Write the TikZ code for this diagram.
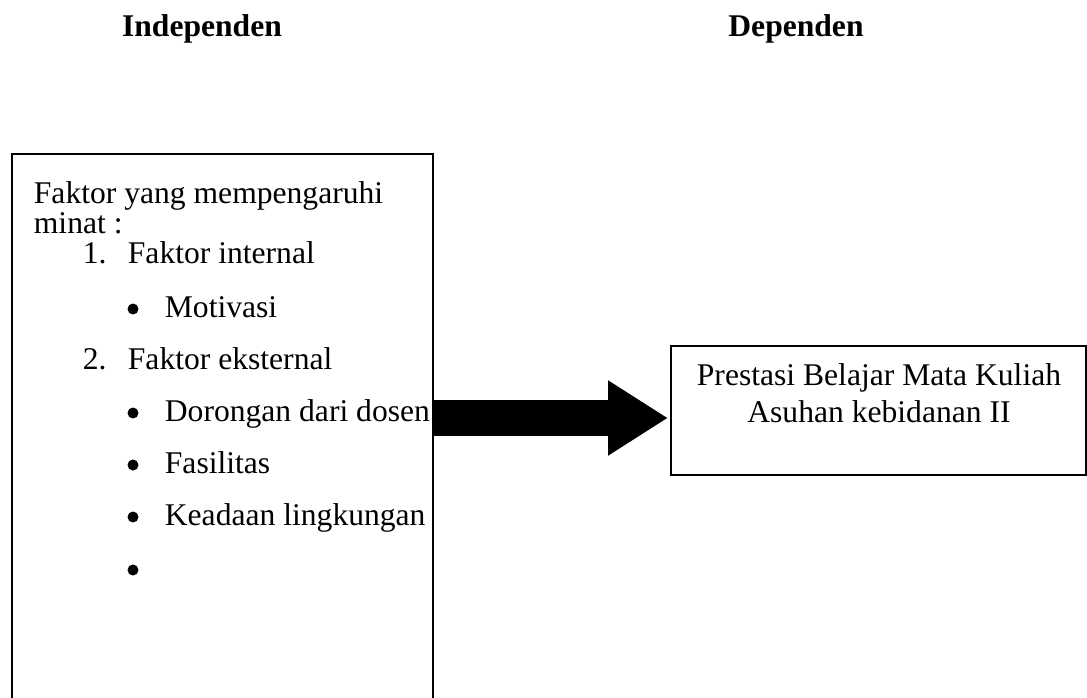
\documentclass[tikz,border=0pt]{standalone}
\usepackage{fontspec}
\setmainfont{Liberation Serif}
\usetikzlibrary{arrows.meta}

\begin{document}
\begin{tikzpicture}[x=0.5pt,y=-0.5pt,line width=0.9pt,
    every node/.style={inner sep=0pt,font=\fontsize{15.8}{15}\selectfont},
    txt/.style={anchor=base west},
    dot/.style={circle,fill,minimum size=5.5pt},
    head/.style={anchor=base,font=\fontsize{15.8}{15}\selectfont\bfseries},
    bigarrow/.style={line width=18pt,-{Triangle[length=30pt,width=35.5pt]}}]
  \clip (0,0) rectangle (1087,697);
  \node (indep) at (202,36) [head] {Independen};
  \node (dep) at (796,36) [head] {Dependen};
  % kotak kiri
  \node (lbox) at (11,153) [draw,anchor=north west,minimum width=210.5pt,minimum height=300pt] {};
  \node (judul) at (33,203) [txt] {Faktor yang mempengaruhi};
  \node (minat) at (33,233) [txt] {minat :};
  \node (n1) at (82,263) [txt] {1.};
  \node (int) at (127,263) [txt] {Faktor internal};
  \node (n2) at (82,369) [txt] {2.};
  \node (eks) at (127,369) [txt] {Faktor eksternal};
  \node (b1) at (133,309) [dot] {};
  \node (motiv) at (164,317) [txt] {Motivasi};
  \foreach \y/\t in {421/Dorongan dari dosen, 473/Fasilitas, 525/Keadaan lingkungan}
  {
    \node (b\y) at (133,\y-8) [dot] {};
    \node (t\y) at (164,\y) [txt] {\t};
  }
  \node (b577) at (133,570) [dot] {};
  % kotak kanan
  \node (rbox) at (670,345) [draw,anchor=north west,minimum width=207.5pt,minimum height=64.5pt] {};
  \node (r1) at (879,385) [anchor=base] {Prestasi Belajar Mata Kuliah};
  \node (r2) at (879,422) [anchor=base] {Asuhan kebidanan II};
  % panah
  \coordinate (tip) at (668,418);
  \draw[bigarrow] (lbox.east |- tip) -- (tip);
\end{tikzpicture}
\end{document}
